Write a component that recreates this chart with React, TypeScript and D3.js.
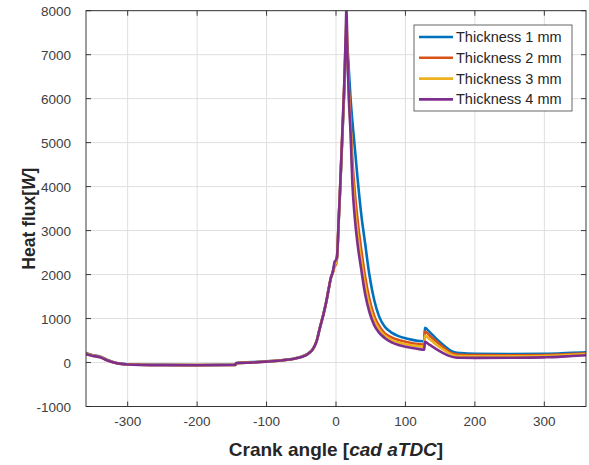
import React from 'react';
import * as d3 from 'd3';

const angles = [-360, -350, -340, -330, -320, -310, -300, -280, -250, -200, -150, -145, -144, -120, -100, -80, -60, -50, -40, -33, -28, -23, -18, -14, -10, -7, -5, -3.5, -2, 0, 1.5, 4, 6, 8, 10, 12, 14, 15, 16.5, 18.5, 21, 23.5, 27, 31, 36.5, 42, 48, 55, 62, 70, 80, 90, 100, 110, 120, 127, 128, 135, 145, 155, 165, 172, 180, 200, 250, 300, 320, 340, 360];

const thickness1 = [220, 165, 140, 65, 5, -25, -40, -48, -52, -55, -50, -50, -10, 8, 28, 52, 92, 132, 205, 315, 485, 805, 1105, 1385, 1720, 1950, 2040, 2130, 2260, 2300, 2400, 3250, 3950, 4700, 5450, 6200, 7000, 7300, 7150, 6650, 6000, 5500, 4900, 4200, 3350, 2700, 2000, 1420, 1050, 820, 680, 600, 550, 515, 490, 480, 790, 690, 530, 390, 270, 230, 215, 200, 195, 200, 205, 220, 230];

const thickness2 = [205, 158, 130, 57, 3, -28, -43, -52, -57, -59, -55, -55, -15, 3, 23, 48, 88, 128, 202, 312, 482, 802, 1102, 1382, 1720, 1940, 2020, 2100, 2190, 2230, 2380, 3280, 3980, 4750, 5500, 6300, 7250, 7550, 7100, 6250, 5500, 4650, 3900, 3250, 2550, 1950, 1450, 1060, 830, 670, 570, 510, 470, 440, 420, 410, 705, 610, 470, 340, 225, 185, 175, 168, 165, 172, 180, 195, 205];

const thickness3 = [200, 155, 125, 55, 2, -29, -44, -53, -58, -60, -56, -56, -16, 2, 22, 47, 87, 127, 201, 311, 481, 801, 1101, 1381, 1720, 1945, 2030, 2120, 2220, 2260, 2400, 3290, 3990, 4780, 5550, 6350, 7400, 7800, 7050, 6100, 5350, 4350, 3550, 2950, 2300, 1750, 1300, 960, 760, 615, 510, 455, 415, 390, 370, 360, 615, 530, 400, 290, 190, 155, 145, 140, 140, 148, 158, 175, 190];

const thickness4 = [190, 150, 120, 50, 0, -30, -45, -55, -60, -62, -58, -57, -18, 0, 20, 45, 85, 125, 200, 310, 480, 800, 1100, 1380, 1720, 1950, 2040, 2150, 2290, 2330, 2420, 3300, 4000, 4800, 5600, 6400, 7500, 8050, 7000, 6000, 5200, 4100, 3300, 2700, 2100, 1550, 1150, 850, 680, 560, 460, 400, 360, 330, 305, 290, 470, 400, 300, 210, 140, 115, 108, 105, 108, 118, 128, 148, 165];

const seriesNames = ['Thickness 1 mm', 'Thickness 2 mm', 'Thickness 3 mm', 'Thickness 4 mm'];
const seriesColors = ['#0072BD', '#D95319', '#EDB120', '#7E2F8E'];
const seriesValues = [thickness1, thickness2, thickness3, thickness4];

const xTicks = [-300, -200, -100, 0, 100, 200, 300];
const yTicks = [-1000, 0, 1000, 2000, 3000, 4000, 5000, 6000, 7000, 8000];

const FONT = 'Liberation Sans, Arial, Helvetica, sans-serif';

export default function App() {
  const W = 589;
  const H = 465;
  const left = 86, right = 586, top = 10.7, bottom = 406.5;
  const x = d3.scaleLinear().domain([-360, 360]).range([left, right]);
  const y = d3.scaleLinear().domain([-1000, 8000]).range([bottom, top]);
  const line = d3
    .line<number>()
    .x((_, i) => x(angles[i]))
    .y((d) => y(d))
    .curve(d3.curveMonotoneX);

  const axisColor = '#262626';
  const tickLen = 5;
  const legend = { x0: 414, y0: 25, w: 158, h: 86 };
  const rowH = 20.8;

  return (
    <svg
      width={W}
      height={H}
      style={{ position: 'absolute', left: 0, top: 0, background: '#fff' }}
      fontFamily={FONT}
    >
      <defs>
        <clipPath id="plotClip">
          <rect x={left} y={top} width={right - left} height={bottom - top} />
        </clipPath>
      </defs>
      <rect x={0} y={0} width={W} height={H} fill="#fff" />
      {/* grid */}
      <g stroke="#dfdfdf" strokeWidth={1}>
        {xTicks.map((t) => (
          <line key={'gx' + t} x1={x(t)} x2={x(t)} y1={top} y2={bottom} />
        ))}
        {yTicks.map((t) => (
          <line key={'gy' + t} x1={left} x2={right} y1={y(t)} y2={y(t)} />
        ))}
      </g>
      {/* series */}
      <g clipPath="url(#plotClip)" fill="none" strokeWidth={2.6} strokeLinejoin="round" strokeLinecap="round">
        {seriesValues.map((vals, k) => (
          <path key={k} d={line(vals) || ''} stroke={seriesColors[k]} />
        ))}
      </g>
      {/* axes box */}
      <rect x={left} y={top} width={right - left} height={bottom - top} fill="none" stroke={axisColor} strokeWidth={0.9} />
      {/* ticks */}
      <g stroke={axisColor} strokeWidth={0.9}>
        {xTicks.map((t) => (
          <g key={'tx' + t}>
            <line x1={x(t)} x2={x(t)} y1={bottom} y2={bottom - tickLen} />
            <line x1={x(t)} x2={x(t)} y1={top} y2={top + tickLen} />
          </g>
        ))}
        {yTicks.map((t) => (
          <g key={'ty' + t}>
            <line x1={left} x2={left + tickLen} y1={y(t)} y2={y(t)} />
            <line x1={right} x2={right - tickLen} y1={y(t)} y2={y(t)} />
          </g>
        ))}
      </g>
      {/* tick labels */}
      <g fill="#404040" fontSize={13.5}>
        {xTicks.map((t) => (
          <text key={'lx' + t} x={x(t)} y={bottom + 19.5} textAnchor="middle">
            {t}
          </text>
        ))}
        {yTicks.map((t) => (
          <text key={'ly' + t} x={left - 15} y={y(t) + 5.5} textAnchor="end">
            {t}
          </text>
        ))}
      </g>
      {/* axis labels */}
      <text x={(left + right) / 2} y={456} textAnchor="middle" fontSize={19} fontWeight="bold" fill="#262626">
        Crank angle [<tspan fontStyle="italic">cad aTDC</tspan>]
      </text>
      <text
        transform={`translate(35, ${(top + bottom) / 2 + 10}) rotate(-90)`}
        textAnchor="middle"
        fontSize={17.5}
        fontWeight="bold"
        fill="#262626"
      >
        Heat flux[<tspan fontStyle="italic">W</tspan>]
      </text>
      {/* legend */}
      <g>
        <rect x={legend.x0} y={legend.y0} width={legend.w} height={legend.h} fill="#fff" stroke={axisColor} strokeWidth={0.7} />
        {seriesNames.map((name, k) => {
          const cy = legend.y0 + 12 + k * rowH;
          return (
            <g key={name}>
              <line x1={legend.x0 + 5} x2={legend.x0 + 39} y1={cy} y2={cy} stroke={seriesColors[k]} strokeWidth={2.6} />
              <text x={legend.x0 + 42} y={cy + 5} fontSize={14.5} fill="#262626">
                {name}
              </text>
            </g>
          );
        })}
      </g>
    </svg>
  );
}
